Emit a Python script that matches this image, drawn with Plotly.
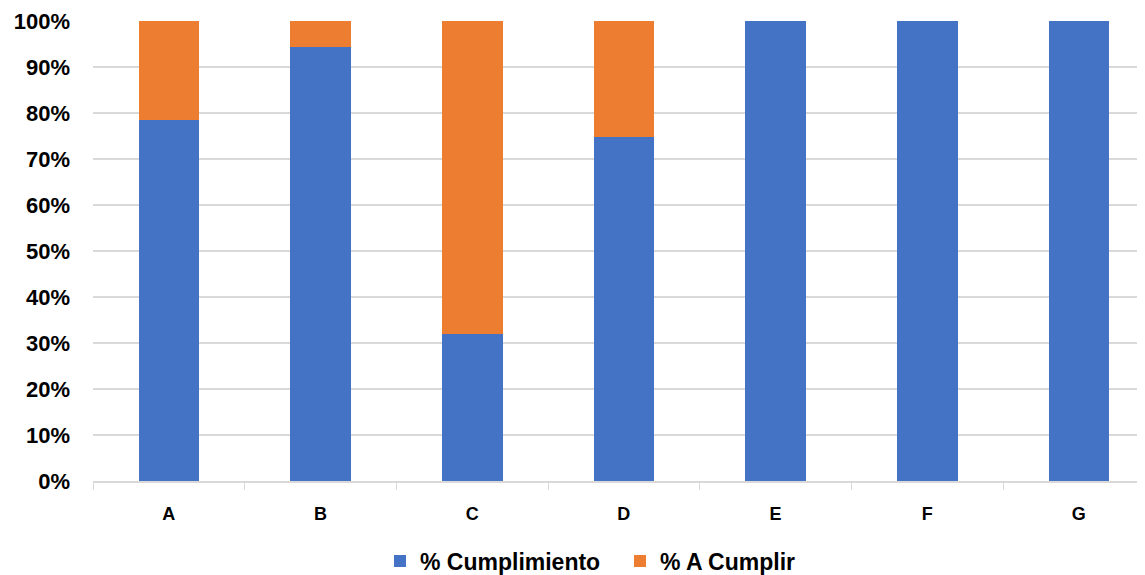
import plotly.graph_objects as go

categories = ["A", "B", "C", "D", "E", "F", "G"]
cumplimiento = [0.785, 0.943, 0.32, 0.748, 1.0, 1.0, 1.0]
a_cumplir = [round(1 - v, 3) for v in cumplimiento]

fig = go.Figure()
fig.add_trace(go.Bar(name="% Cumplimiento", x=categories, y=cumplimiento,
                     marker=dict(color="#4472C4", line=dict(width=0)), width=0.4))
fig.add_trace(go.Bar(name="% A Cumplir", x=categories, y=a_cumplir,
                     marker=dict(color="#ED7D31", line=dict(width=0)), width=0.4))

fig.update_layout(
    barmode="stack",
    width=1145, height=575,
    margin=dict(l=85, r=8, t=13, b=102),
    plot_bgcolor="white", paper_bgcolor="white",
    font=dict(family="Liberation Sans, Arial, sans-serif", color="#000000"),
    showlegend=True,
    legend=dict(orientation="h", xref="paper", x=0.2728, xanchor="left",
                yref="container", y=0.0383, yanchor="middle",
                font=dict(size=23, weight="bold"), entrywidth=195, entrywidthmode="pixels",
                traceorder="normal"),
    xaxis=dict(range=[-0.5, 6.436], tickson="boundaries", ticks="outside", ticklen=7,
               tickcolor="#d9d9d9", showline=True, linecolor="#d9d9d9", linewidth=1.5,
               tickfont=dict(size=18, weight="bold"), ticklabelstandoff=16, showgrid=False,
               automargin=False),
    yaxis=dict(range=[0, 1], dtick=0.1, tickformat=".0%", showgrid=True, gridcolor="#d9d9d9",
               gridwidth=1.5, zeroline=False, tickfont=dict(size=22, weight="bold"),
               ticklabelstandoff=22, automargin=False),
)
fig.write_html("out.html")
